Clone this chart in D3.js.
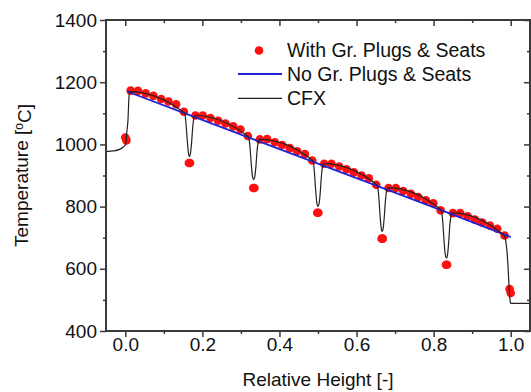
<!DOCTYPE html>
<html>
<head>
<meta charset="utf-8">
<script src="https://cdn.jsdelivr.net/npm/d3@7"></script>
<style>
  html, body { margin: 0; padding: 0; background: #fff; }
  svg { display: block; font-family: "Liberation Sans", Arial, sans-serif; }
</style>
</head>
<body>
<svg id="chart" width="531" height="392"></svg>
<script>
// ---- Data ----
const seriesNames = ["With Gr. Plugs & Seats", "No Gr. Plugs & Seats", "CFX"];

// "With Gr. Plugs & Seats" (red dots)
const withX = [0.000, 0.003,
  0.014, 0.033, 0.053, 0.073, 0.093, 0.112, 0.132, 0.152,
  0.165, 0.168,
  0.182, 0.201, 0.221, 0.241, 0.260, 0.280, 0.299, 0.318,
  0.332, 0.335,
  0.349, 0.368, 0.388, 0.407, 0.427, 0.446, 0.466, 0.485,
  0.498, 0.501,
  0.516, 0.535, 0.555, 0.574, 0.593, 0.613, 0.632, 0.651,
  0.665, 0.668,
  0.683, 0.702, 0.721, 0.741, 0.760, 0.780, 0.799, 0.818,
  0.832, 0.835,
  0.850, 0.869, 0.888, 0.907, 0.926, 0.946, 0.965, 0.984,
  0.997, 1.000];
const withT = [1022, 1013,
  1173, 1172, 1164, 1156, 1146, 1138, 1129, 1105,
  940, 940,
  1093, 1093, 1085, 1076, 1067, 1058, 1048, 1027,
  860, 860,
  1016, 1017, 1007, 998, 988, 978, 969, 948,
  780, 780,
  938, 938, 929, 920, 910, 900, 891, 870,
  697, 697,
  860, 860, 850, 841, 831, 820, 811, 788,
  613, 613,
  779, 779, 769, 758, 749, 739, 729, 707,
  535, 522];

// "No Gr. Plugs & Seats" (blue line)
const noX = [0.005, 0.167, 0.333, 0.500, 0.667, 0.833, 1.000];
const noT = [1170, 1094, 1016, 938, 860, 782, 702];

// CFX (black line)
const cfxX = [-0.050, -0.030, -0.015, -0.006, 0.000, 0.002, 0.004, 0.007, 0.0095, 0.011,
  0.152, 0.155, 0.158, 0.161, 0.164, 0.1667, 0.169, 0.172, 0.175, 0.178, 0.181,
  0.318, 0.321, 0.324, 0.327, 0.330, 0.3333, 0.336, 0.339, 0.342, 0.345, 0.348,
  0.485, 0.488, 0.491, 0.494, 0.497, 0.500, 0.503, 0.506, 0.509, 0.512, 0.515,
  0.652, 0.655, 0.658, 0.661, 0.664, 0.6667, 0.669, 0.672, 0.675, 0.678, 0.682,
  0.818, 0.821, 0.824, 0.827, 0.830, 0.8333, 0.836, 0.839, 0.842, 0.845, 0.848,
  0.984, 0.987, 0.990, 0.993, 0.9955, 0.998, 1.000, 1.050];
const cfxT = [977, 979, 984, 991, 998, 1010, 1040, 1078, 1150, 1170,
  1103, 1096, 1060, 1010, 972, 961, 970, 1005, 1055, 1085, 1093,
  1026, 1019, 985, 935, 898, 887, 896, 930, 980, 1008, 1016,
  950, 942, 905, 852, 812, 801, 810, 848, 900, 930, 938,
  871, 863, 826, 772, 731, 720, 729, 768, 820, 850, 860,
  791, 783, 745, 690, 648, 635, 645, 685, 740, 770, 780,
  706, 690, 660, 607, 545, 500, 489, 489];

const xTicks = [0.0, 0.2, 0.4, 0.6, 0.8, 1.0];
const xMinor = [0.1, 0.3, 0.5, 0.7, 0.9];
const yTicks = [400, 600, 800, 1000, 1200, 1400];
const yMinor = [500, 700, 900, 1100, 1300];

// ---- Layout ----
const L = 106, T = 20, R = 530, B = 331;
const svg = d3.select("#chart");
const x = d3.scaleLinear().domain([-0.05, 1.05]).range([L, R]);
const y = d3.scaleLinear().domain([400, 1400]).range([B, T]);

const axisColor = "#3a3a3a";
const fs = 19;
const red = "#ff1010";
const blue = "#2323d6";

// ---- Series ----
const withData = withX.map((v, i) => ({x: v, t: withT[i]}));
const noData = noX.map((v, i) => ({x: v, t: noT[i]}));
const cfxData = cfxX.map((v, i) => ({x: v, t: cfxT[i]}));

svg.append("g").selectAll("circle").data(withData).join("circle")
  .attr("cx", d => x(d.x)).attr("cy", d => y(d.t)).attr("r", 4.3)
  .attr("fill", red);

svg.append("path").datum(noData)
  .attr("d", d3.line().x(d => x(d.x)).y(d => y(d.t)))
  .attr("fill", "none").attr("stroke", blue).attr("stroke-width", 1.8);

svg.append("path").datum(cfxData)
  .attr("d", d3.line().x(d => x(d.x)).y(d => y(d.t)).curve(d3.curveMonotoneX))
  .attr("fill", "none").attr("stroke", "#222").attr("stroke-width", 1.2);

// ---- Axes ----
function styleAxis(g) {
  g.select(".domain").remove();
  g.selectAll("line").attr("stroke", axisColor).attr("stroke-width", 1.5);
  g.selectAll("text").attr("fill", "#111").style("font-size", fs + "px")
    .style("font-family", "'Liberation Sans', Arial, sans-serif");
}

// bottom (outward)
svg.append("g").attr("transform", `translate(0,${B})`)
  .call(d3.axisBottom(x).tickValues(xTicks).tickFormat(d3.format(".1f")).tickSize(6).tickPadding(1))
  .call(styleAxis);
svg.append("g").attr("transform", `translate(0,${B})`)
  .call(d3.axisBottom(x).tickValues(xMinor).tickFormat("").tickSize(3))
  .call(styleAxis);
// top (inward)
svg.append("g").attr("transform", `translate(0,${T})`)
  .call(d3.axisBottom(x).tickValues(xTicks).tickFormat("").tickSize(6))
  .call(styleAxis);
svg.append("g").attr("transform", `translate(0,${T})`)
  .call(d3.axisBottom(x).tickValues(xMinor).tickFormat("").tickSize(3))
  .call(styleAxis);
// left (outward)
svg.append("g").attr("transform", `translate(${L},0)`)
  .call(d3.axisLeft(y).tickValues(yTicks).tickFormat(d3.format("d")).tickSize(6).tickPadding(3))
  .call(styleAxis);
svg.append("g").attr("transform", `translate(${L},0)`)
  .call(d3.axisLeft(y).tickValues(yMinor).tickFormat("").tickSize(3))
  .call(styleAxis);
// right (inward)
svg.append("g").attr("transform", `translate(${R},0)`)
  .call(d3.axisLeft(y).tickValues(yTicks).tickFormat("").tickSize(6))
  .call(styleAxis);
svg.append("g").attr("transform", `translate(${R},0)`)
  .call(d3.axisLeft(y).tickValues(yMinor).tickFormat("").tickSize(3))
  .call(styleAxis);

// frame
svg.append("rect").attr("x", L).attr("y", T).attr("width", R - L).attr("height", B - T)
  .attr("fill", "none").attr("stroke", axisColor).attr("stroke-width", 2);

// ---- Titles ----
svg.append("text").attr("x", (L + R) / 2).attr("y", 386).attr("text-anchor", "middle")
  .style("font-size", fs + "px").attr("fill", "#111").text("Relative Height [-]");

const yt = svg.append("text").attr("transform", `translate(28,${(T + B) / 2}) rotate(-90)`)
  .attr("text-anchor", "middle").style("font-size", fs + "px").attr("fill", "#111");
yt.append("tspan").text("Temperature [");
yt.append("tspan").attr("dy", "-0.4em").style("font-size", "12px").text("o");
yt.append("tspan").attr("dy", "0.4em").text("C]");

// ---- Legend ----
const lg = svg.append("g");
const rows = [50.5, 74, 98.3];
const tx = 287;
lg.append("circle").attr("cx", 259).attr("cy", rows[0]).attr("r", 4.3).attr("fill", red);
lg.append("line").attr("x1", 238).attr("x2", 282).attr("y1", rows[1]).attr("y2", rows[1])
  .attr("stroke", blue).attr("stroke-width", 1.8);
lg.append("line").attr("x1", 238).attr("x2", 282).attr("y1", rows[2]).attr("y2", rows[2])
  .attr("stroke", "#222").attr("stroke-width", 1.2);
seriesNames.forEach((n, i) => {
  lg.append("text").attr("x", tx).attr("y", rows[i]).attr("dy", "0.35em")
    .style("font-size", "19.5px").attr("fill", "#111").text(n);
});
</script>
</body>
</html>
